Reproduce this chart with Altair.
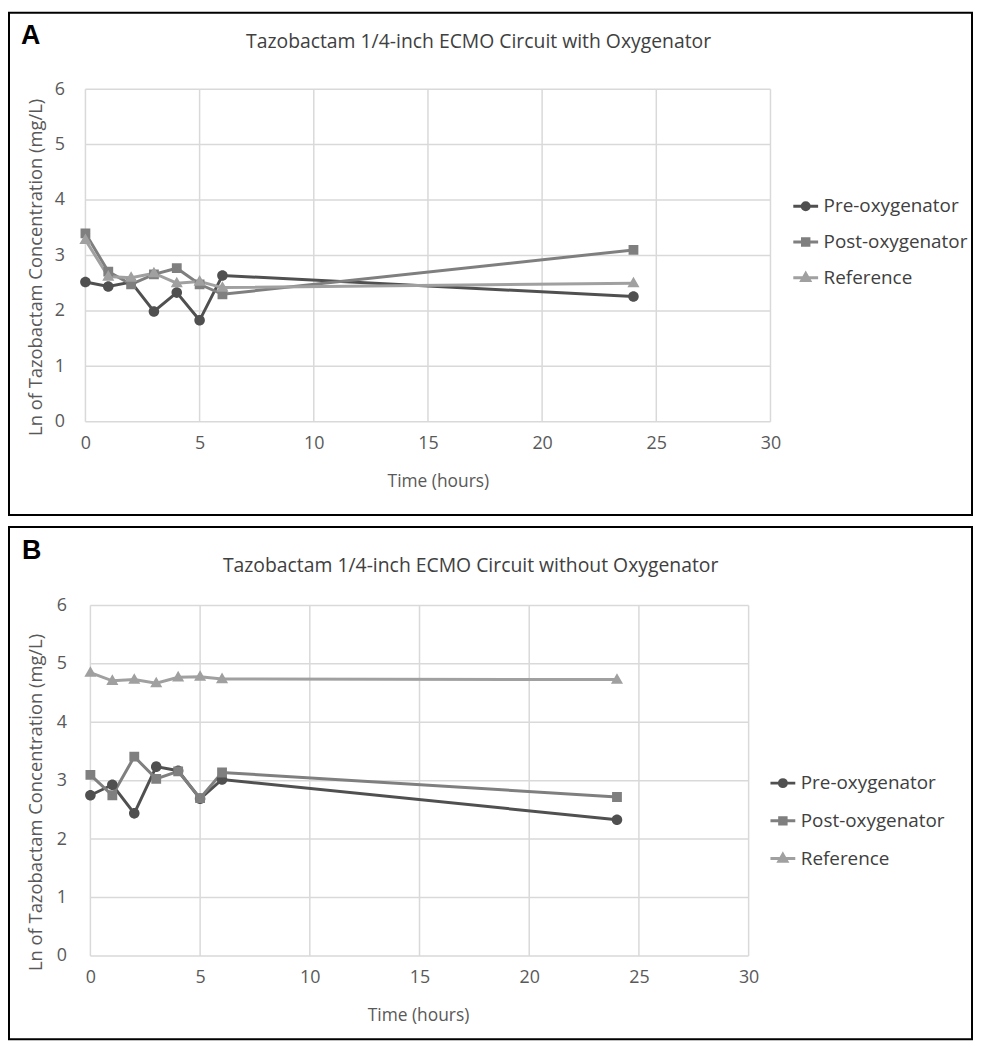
import altair as alt
import pandas as pd

# ---------------- data ----------------
HOURS = [0, 1, 2, 3, 4, 5, 6, 24]
SERIES = ["Pre-oxygenator", "Post-oxygenator", "Reference"]

A_PRE = [2.52, 2.44, 2.52, 1.99, 2.33, 1.83, 2.64, 2.26]
A_POST = [3.40, 2.71, 2.48, 2.66, 2.77, 2.48, 2.30, 3.10]
A_REF = [3.28, 2.62, 2.60, 2.68, 2.50, 2.53, 2.42, 2.50]

B_PRE = [2.75, 2.93, 2.44, 3.24, 3.17, 2.69, 3.02, 2.33]
B_POST = [3.10, 2.75, 3.41, 3.03, 3.16, 2.70, 3.14, 2.72]
B_REF = [4.85, 4.71, 4.73, 4.67, 4.77, 4.78, 4.74, 4.73]

X_TICKS = [0, 5, 10, 15, 20, 25, 30]
Y_TICKS = [0, 1, 2, 3, 4, 5, 6]

TITLE_A = "Tazobactam 1/4-inch ECMO Circuit with Oxygenator"
TITLE_B = "Tazobactam 1/4-inch ECMO Circuit without Oxygenator"
X_TITLE = "Time (hours)"
Y_TITLE = "Ln of Tazobactam Concentration (mg/L)"

COLORS = ["#505050", "#7f7f7f", "#a0a0a0"]
FONT = "Open Sans"
GRID = "#d9d9d9"

# marker shapes: a short line (visible only where a stroke is drawn, i.e. in
# the legend) plus the filled marker
SHAPE_PATHS = [
    "M-1,0H1M0.28,0A0.28,0.28,0,1,1,-0.28,0A0.28,0.28,0,1,1,0.28,0Z",
    "M-1,0H1M-0.26,-0.26H0.26V0.26H-0.26Z",
    "M-1,0H1M0,-0.34L0.32,0.22H-0.32Z",
]


def long_df(pre, post, ref):
    rows = []
    for name, vals in zip(SERIES, [pre, post, ref]):
        for h, v in zip(HOURS, vals):
            rows.append({"hour": h, "value": v, "series": name})
    return pd.DataFrame(rows)


def sig_map(keys, vals):
    expr = "'" + vals[-1] + "'"
    for k, v in reversed(list(zip(keys[:-1], vals[:-1]))):
        expr = f"datum.value === '{k}' ? '{v}' : " + expr
    return expr


COLOR_SIG = sig_map(SERIES, COLORS)


def panel(df, W, H, xr, yr, letter, letter_pos, title, title_pos,
          xtitle_pos, ytitle_pos, ylabpad, leg_pos, leg_rowpad):
    left, right = xr
    bottom, top = yr
    x = alt.X("hour:Q", scale=alt.Scale(domain=[0, 30], nice=False, range=[left, right]),
              axis=alt.Axis(values=X_TICKS, title=X_TITLE, labelPadding=13,
                            labelFlush=False, offset=-(H - bottom),
                            titleX=xtitle_pos[0], titleY=xtitle_pos[1],
                            titleFontSize=17.5,
                            titleBaseline="middle", titleAlign="center"))
    y = alt.Y("value:Q", scale=alt.Scale(domain=[0, 6], nice=False, range=[bottom, top]),
              axis=alt.Axis(values=Y_TICKS, title=Y_TITLE, labelPadding=ylabpad,
                            labelFlush=False, offset=-left,
                            titleX=ytitle_pos[0], titleY=ytitle_pos[1],
                            titleFontSize=18.5,
                            titleAngle=270, titleBaseline="middle",
                            titleAlign="center"))
    cscale = alt.Scale(domain=SERIES, range=COLORS)
    sscale = alt.Scale(domain=SERIES, range=SHAPE_PATHS)

    vgrid = alt.Chart(pd.DataFrame({"hour": X_TICKS})).mark_rule(
        color=GRID, strokeWidth=1.5).encode(x=x, y=alt.value(top), y2=alt.value(bottom))
    hgrid = alt.Chart(pd.DataFrame({"value": Y_TICKS})).mark_rule(
        color=GRID, strokeWidth=1.5).encode(y=y, x=alt.value(left), x2=alt.value(right))

    base = alt.Chart(df)
    lines = base.mark_line(strokeWidth=3).encode(
        x=x, y=y,
        color=alt.Color("series:N", scale=cscale, sort=SERIES,
                        legend=alt.Legend(
                            orient="none", legendX=leg_pos[0], legendY=leg_pos[1],
                            title=None, symbolSize=625, symbolStrokeWidth=3,
                            symbolFillColor=alt.ExprRef(expr=COLOR_SIG),
                            symbolStrokeColor=alt.ExprRef(expr=COLOR_SIG),
                            symbolOpacity=1,
                            labelFont=FONT, labelFontSize=19, labelColor="#404040",
                            labelOffset=4, rowPadding=leg_rowpad)),
        order=alt.Order("hour:Q"),
    )
    points = base.mark_point(filled=True, size=1444, opacity=1).encode(
        x=x, y=y,
        color=alt.Color("series:N", scale=cscale, sort=SERIES, legend=None),
        shape=alt.Shape("series:N", scale=sscale, legend=None),
    )
    one = alt.Chart(pd.DataFrame({"k": [0]}))
    let = one.mark_text(font="Liberation Sans", fontSize=27, fontWeight="bold",
                        color="black", align="left", baseline="middle").encode(
        x=alt.value(letter_pos[0]), y=alt.value(letter_pos[1]), text=alt.value(letter))
    ttl = one.mark_text(font=FONT, fontSize=19.5, color="#404040",
                        align="center", baseline="middle").encode(
        x=alt.value(title_pos[0]), y=alt.value(title_pos[1]), text=alt.value(title))
    return alt.layer(vgrid, hgrid, lines, points, let, ttl).properties(width=W, height=H)


chart_a = panel(long_df(A_PRE, A_POST, A_REF), 970, 506,
                xr=(77, 767), yr=(412, 77), letter="A", letter_pos=(12, 24),
                title=TITLE_A, title_pos=(473, 30),
                xtitle_pos=(432, 60), ytitle_pos=(-50, 256), ylabpad=21,
                leg_pos=(788.5, 181), leg_rowpad=12)

chart_b = panel(long_df(B_PRE, B_POST, B_REF), 970, 516,
                xr=(82, 745), yr=(432, 79), letter="B", letter_pos=(13, 24),
                title=TITLE_B, title_pos=(465, 39),
                xtitle_pos=(412, 60), ytitle_pos=(-55, 277), ylabpad=24,
                leg_pos=(765.5, 244), leg_rowpad=14)

chart = alt.vconcat(chart_a, chart_b, spacing=10).resolve_scale(
    x="independent", y="independent", color="independent", shape="independent"
).resolve_legend(color="independent", shape="independent").properties(
    padding={"left": 0, "top": 0, "right": 0, "bottom": 0}, background="white"
).configure_view(stroke="black", strokeWidth=2, fill="white").configure_axis(
    grid=False, domain=False, ticks=False,
    labelFont=FONT, labelFontSize=18, labelColor="#595959",
    titleFont=FONT, titleColor="#595959", titleFontWeight="normal",
)

chart.save("out.html", embed_options={"renderer": "svg", "actions": False})
